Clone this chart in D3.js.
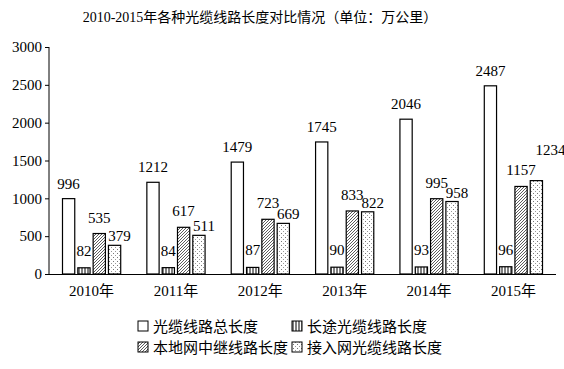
<!DOCTYPE html>
<html><head><meta charset="utf-8">
<script src="https://cdn.jsdelivr.net/npm/d3@7"></script>
<style>body{margin:0;background:#fff}svg{display:block}</style>
</head><body>
<script>
const years = ["2010年","2011年","2012年","2013年","2014年","2015年"];
const seriesNames = ["光缆线路总长度","长途光缆线路长度","本地网中继线路长度","接入网光缆线路长度"];
const totalLen = [996,1212,1479,1745,2046,2487];
const longLen = [82,84,87,90,93,96];
const localLen = [535,617,723,833,995,1157];
const accessLen = [379,511,669,822,958,1234];
const yTicks = [0,500,1000,1500,2000,2500,3000];
const titleText = "2010-2015年各种光缆线路长度对比情况（单位：万公里）";

const series = [totalLen, longLen, localLen, accessLen];
const W=564,H=369;
const svg=d3.select("body").append("svg").attr("width",W).attr("height",H);
const defs=svg.append("defs");
const pV=defs.append("pattern").attr("id","pv").attr("patternUnits","userSpaceOnUse").attr("width",3).attr("height",3);
pV.append("rect").attr("width",3).attr("height",3).attr("fill","#fff");
pV.append("line").attr("x1",1).attr("x2",1).attr("y1",0).attr("y2",3).attr("stroke","#000").attr("stroke-width",1);
const pH=defs.append("pattern").attr("id","ph").attr("patternUnits","userSpaceOnUse").attr("width",3).attr("height",3);
pH.append("rect").attr("width",3).attr("height",3).attr("fill","#fff");
pH.append("path").attr("d","M-1,1 L1,-1 M0,3 L3,0 M2,4 L4,2").attr("stroke","#333").attr("stroke-width",0.8);
const pD=defs.append("pattern").attr("id","pd").attr("patternUnits","userSpaceOnUse").attr("width",4).attr("height",4);
pD.append("rect").attr("width",4).attr("height",4).attr("fill","#fff");
pD.append("rect").attr("x",1).attr("y",1).attr("width",1).attr("height",1).attr("fill","#777");
pD.append("rect").attr("x",3).attr("y",3).attr("width",1).attr("height",1).attr("fill","#999");
const fills=["#fff","url(#pv)","url(#ph)","url(#pd)"];

const x0=d3.scaleBand().domain(years).range([49,556]).paddingInner(0.31).paddingOuter(0.16);
const x1=d3.scaleBand().domain(d3.range(4)).range([0,x0.bandwidth()]).paddingInner(0.2);
const y=d3.scaleLinear().domain([0,3000]).range([274,47]);

const serif="'Liberation Serif','Times New Roman',serif";
const cjk="'Liberation Serif','Noto Sans CJK SC',serif";

svg.append("text").attr("x",260).attr("y",22).attr("text-anchor","middle")
  .attr("font-family",cjk).attr("font-size",14).attr("fill","#000").text(titleText);

const ya=svg.append("g").attr("transform","translate(49,0)")
  .call(d3.axisLeft(y).tickValues(yTicks).tickSize(4).tickPadding(3).tickFormat(d3.format("d")));
ya.select(".domain").attr("stroke","#000").attr("d","M0,"+y(3000)+"V"+y(0));
ya.selectAll("text").attr("font-family",serif).attr("font-size",15).attr("fill","#000");

svg.append("line").attr("x1",49).attr("x2",556).attr("y1",274.5).attr("y2",274.5).attr("stroke","#000");
svg.append("g").selectAll("text").data(years).join("text")
  .attr("x",d=>x0(d)+x0.bandwidth()/2).attr("y",296).attr("text-anchor","middle")
  .attr("font-family",cjk).attr("font-size",15).attr("fill","#000").text(d=>d);

const dx=[0,0,0,5], dy=[10,12,11,4];
const labelPos = series.map((vals,si)=>vals.map((d,i)=>({
  x: x0(years[i])+x1(si)+x1.bandwidth()/2+dx[si], y: y(d)-dy[si], v:d })));
// collision avoidance: lift a label that would run into its left neighbour
for (let si=1; si<series.length; si++){
  labelPos[si].forEach((p,i)=>{
    const q=labelPos[si-1][i];
    if (Math.abs(p.y-q.y)<5 && Math.abs(p.x-q.x)<26){ p.y=q.y-20; p.x+=9; }
  });
}
series.forEach((vals,si)=>{
  const g=svg.append("g");
  g.selectAll("rect").data(vals).join("rect")
    .attr("x",(d,i)=>x0(years[i])+x1(si)).attr("y",d=>y(d))
    .attr("width",x1.bandwidth()).attr("height",d=>y(0)-y(d))
    .attr("fill",fills[si]).attr("stroke","#000").attr("stroke-width",1.2);
  g.selectAll("text").data(labelPos[si]).join("text")
    .attr("x",p=>p.x).attr("y",p=>p.y).attr("text-anchor","middle")
    .attr("font-family",serif).attr("font-size",15).attr("fill","#000").text(p=>p.v);
});

const leg=[[138,326],[292,326],[138,347],[292,347]];
seriesNames.forEach((n,i)=>{
  const g=svg.append("g").attr("transform",`translate(${leg[i][0]},${leg[i][1]})`);
  g.append("rect").attr("x",0).attr("y",-5).attr("width",10).attr("height",10)
    .attr("fill",fills[i]).attr("stroke","#000").attr("stroke-width",1);
  g.append("text").attr("x",15).attr("y",5.5).attr("font-family","'Noto Sans CJK SC',sans-serif")
    .attr("font-size",15).attr("fill","#000").text(n);
});
</script>
</body></html>
